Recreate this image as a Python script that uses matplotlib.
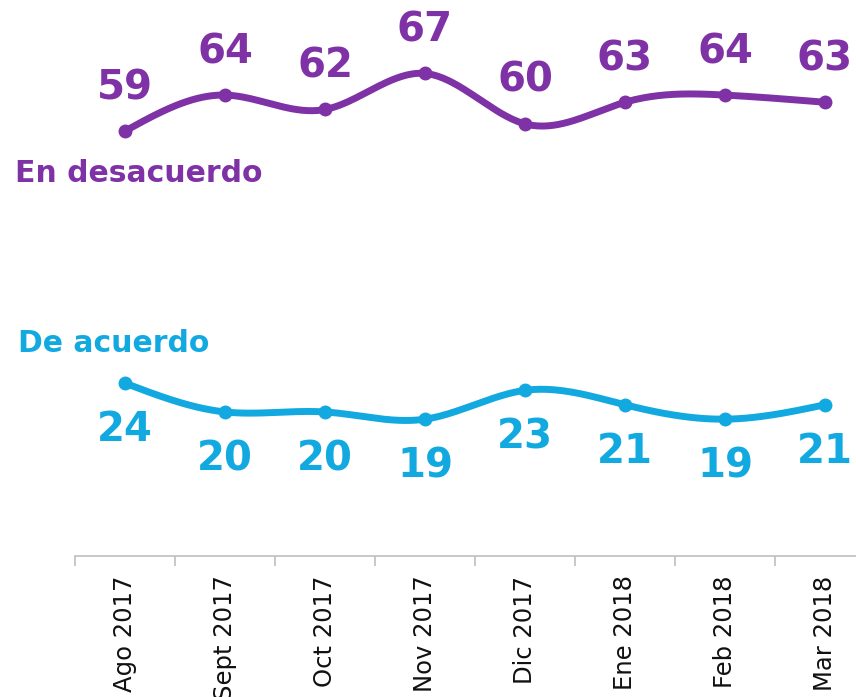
import numpy as np
import matplotlib
matplotlib.use("Agg")
import matplotlib.pyplot as plt

months = ["Ago 2017", "Sept 2017", "Oct 2017", "Nov 2017",
          "Dic 2017", "Ene 2018", "Feb 2018", "Mar 2018"]
desacuerdo = [59, 64, 62, 67, 60, 63, 64, 63]
acuerdo = [24, 20, 20, 19, 23, 21, 19, 21]

PURPLE = "#7F31A6"
CYAN = "#12A9E1"
GRAY = "#BFBFBF"


def smooth(x, y, n=40):
    # natural cubic spline through the points
    x = np.asarray(x, float)
    y = np.asarray(y, float)
    k = len(x)
    h = np.diff(x)
    A = np.zeros((k, k))
    b = np.zeros(k)
    A[0, 0] = A[-1, -1] = 1
    for i in range(1, k - 1):
        A[i, i - 1] = h[i - 1]
        A[i, i] = 2 * (h[i - 1] + h[i])
        A[i, i + 1] = h[i]
        b[i] = 6 * ((y[i + 1] - y[i]) / h[i] - (y[i] - y[i - 1]) / h[i - 1])
    M = np.linalg.solve(A, b)
    xs, ys = [], []
    for i in range(k - 1):
        t = np.linspace(x[i], x[i + 1], n)
        a = x[i + 1] - t
        c = t - x[i]
        s = (M[i] * a ** 3 + M[i + 1] * c ** 3) / (6 * h[i]) \
            + (y[i] / h[i] - M[i] * h[i] / 6) * a \
            + (y[i + 1] / h[i] - M[i + 1] * h[i] / 6) * c
        xs.append(t)
        ys.append(s)
    return np.concatenate(xs), np.concatenate(ys)


fig = plt.figure(figsize=(8.56, 6.97), dpi=100)
ax = fig.add_axes([75 / 856, 1 - 556 / 697, 800 / 856, 556 / 697])

x = np.arange(len(months))
for vals, color, dy in [(desacuerdo, PURPLE, 31), (acuerdo, CYAN, -34)]:
    sxv, syv = smooth(x, vals)
    ax.plot(sxv, syv, color=color, lw=5, solid_capstyle="round", zorder=2)
    ax.plot(x, vals, "o", color=color, ms=9, zorder=3)
    for xi, v in zip(x, vals):
        ax.annotate(str(v), (xi, v), xytext=(0, dy), textcoords="offset points",
                    ha="center", va="center", fontsize=29, fontweight="bold",
                    color=color)

fig.text(15 / 856, 1 - 174 / 697, "En desacuerdo", color=PURPLE,
         fontsize=21.5, fontweight="bold", va="center", ha="left")
fig.text(18 / 856, 1 - 344 / 697, "De acuerdo", color=CYAN,
         fontsize=21.5, fontweight="bold", va="center", ha="left")

ax.set_xlim(-0.5, 7.5)
ax.set_ylim(0, 77.2)
for s in ["left", "top", "right"]:
    ax.spines[s].set_visible(False)
ax.spines["bottom"].set_color(GRAY)
ax.spines["bottom"].set_linewidth(1.2)
ax.set_yticks([])
ax.set_xticks(x)
ax.set_xticklabels(months, rotation=90, fontsize=17.5, color="#111111")
ax.tick_params(axis="x", which="major", length=0, pad=14)
ax.set_xticks(np.arange(-0.5, 8.0, 1.0), minor=True)
ax.tick_params(axis="x", which="minor", length=7.2, width=1.2, color=GRAY)

fig.savefig("out.png", dpi=100)
